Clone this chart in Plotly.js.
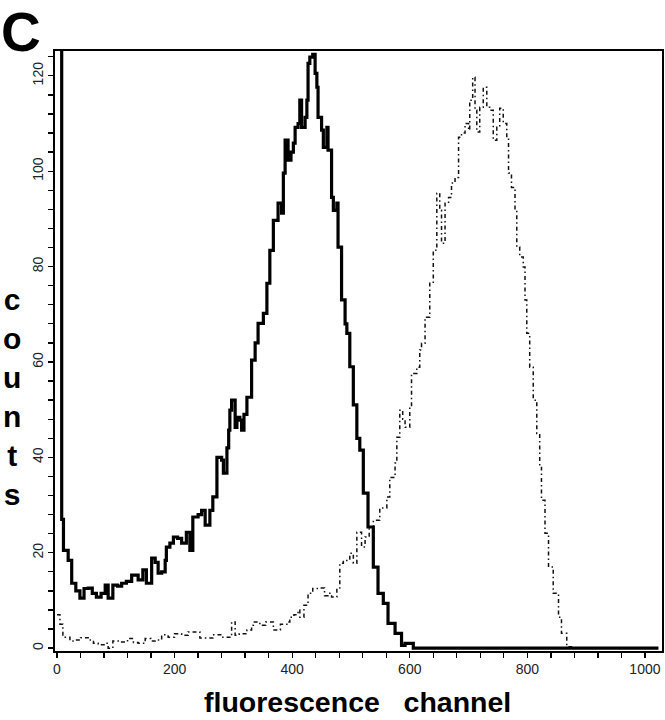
<!DOCTYPE html>
<html>
<head>
<meta charset="utf-8">
<script src="https://cdn.plot.ly/plotly-3.0.1.min.js"></script>
<style>html,body{margin:0;padding:0;background:#fff;}#chart{width:665px;height:720px;}</style>
</head>
<body>
<div id="chart"></div>
<script>
// Solid (thick) histogram: channel, counts
const solidChannel = [0,8,11,19,25,32,39,46,53,60,67,75,82,87,95,103,110,118,127,138,146,152,161,167,172,178,184,186,192,198,205,212,220,226,231,240,246,252,260,265,272,280,283,289,292,294,297,303,306,311,314,318,323,331,337,342,351,357,362,368,376,382,385,388,393,398,402,405,410,413,416,422,425,427,430,435,439,442,444,450,453,459,461,467,470,476,478,484,490,493,498,504,510,515,521,529,538,546,555,563,575,586,592,600,606,1023];
const solidCounts  = [200,27,20.5,18.4,13.6,12,10.5,12.5,12.6,11.5,10.7,11.5,13.2,10.5,13.2,13,13.6,14,15.3,14.3,16.4,13.6,18.9,18,15.7,16,18.4,21.2,22,23.3,23,22,24.3,20.5,27.5,28,28.9,25.8,28.9,31.7,40,39.4,36.7,42,45.7,49.9,52,46.3,48.4,47.8,45.7,49,52.6,60.4,64,68.1,70.2,76.5,83.4,89.7,93.3,91.2,99.6,106.5,102.3,104,105.9,109.2,110,114.9,109.2,111.3,114.9,122.6,123.9,124.5,120.5,117.6,111.3,108.6,105,109.2,104.4,94.5,91.8,93.3,84.1,73,68,66,59,51,44,41.5,32.5,25.4,17,11.5,9.4,5.2,3.1,0.6,1,1,0,0];

// Dotted (thin) histogram: channel, counts
const dashChannel = [0,5,10,14,22,31,40,53,62,70,80,87,95,110,120,130,138,150,160,167,178,189,200,212,223,232,243,252,265,280,289,297,303,310,323,331,334,345,355,368,380,391,396,403,410,413,420,427,435,447,455,461,467,476,481,487,498,504,510,518,524,531,538,549,561,566,575,578,583,588,592,600,603,612,617,620,626,634,640,646,651,654,660,666,671,677,683,688,694,700,702,707,711,714,719,725,731,736,742,748,753,759,765,768,773,779,782,787,793,796,799,804,810,816,821,824,830,836,844,853,858,867,875,1023];
const dashCounts  = [7,5,2.5,2.3,1.5,1.7,2.2,1.7,1,0.7,1,0,1.5,1.3,2,1.2,1,2,1.5,1.7,2.8,2.3,3,2.7,3.4,3.4,2.1,2.1,2.8,2.3,2.3,5.5,2.7,3,3.8,4.8,5.5,4.8,5.5,3.8,5,5.5,6.5,7,8,6.5,9,11.5,12.5,12.6,11,11.5,10.7,12.6,17.8,18.4,19.9,17.8,24.3,21.2,23.3,25,26.8,29.4,31.7,35.8,38.8,44.2,49.9,48,46.3,50.5,57.6,58.9,62.5,63.9,69.4,76.5,83.4,95.4,91.8,84.9,93.3,94.5,97.5,98.7,107.1,108,110,108.6,114.9,119.7,112.8,108.2,113.4,117.6,113.4,112.8,106.5,109.2,113.2,110,106.9,99.6,96.6,91.8,84.1,82,79.9,73,66,58.9,52,45,37.9,31,24.1,17,11.5,6.5,3.1,0.3,0,0];

// Tick positions (every minor step) and labels (only on major steps)
const xTickVals = [0,40,80,120,160,200,240,280,320,360,400,440,480,520,560,600,640,680,720,760,800,840,880,920,960,1000];
const xTickText = ['0','','','','','200','','','','','400','','','','','600','','','','','800','','','','','1000'];
const yTickVals = [0,4,8,12,16,20,24,28,32,36,40,44,48,52,56,60,64,68,72,76,80,84,88,92,96,100,104,108,112,116,120,124];
const yTickText = ['0','','','','','20','','','','','40','','','','','60','','','','','80','','','','','100','','','','','120',''];

const traces = [
  {x: dashChannel, y: dashCounts, type: 'scatter', mode: 'lines',
   line: {shape: 'hv', color: '#111', width: 1.5, dash: '4px,3px,1.5px,3px'}, hoverinfo: 'skip'},
  {x: solidChannel, y: solidCounts, type: 'scatter', mode: 'lines',
   line: {shape: 'hv', color: '#000', width: 3.2}, hoverinfo: 'skip'}
];

const tickFont = {family: '"Liberation Sans", Arial, Helvetica, sans-serif', size: 14, color: '#222'};
const boldFont = (s) => ({family: '"Liberation Sans", Arial, Helvetica, sans-serif', size: s, color: '#000', weight: 'bold'});

const layout = {
  width: 665, height: 720,
  margin: {l: 55, r: 3, t: 51, b: 69, pad: 0},
  paper_bgcolor: '#fff', plot_bgcolor: '#fff',
  showlegend: false,
  xaxis: {
    range: [-3.4, 1029], showgrid: false, zeroline: false,
    showline: true, mirror: true, linecolor: '#000', linewidth: 1.6,
    tickmode: 'array', tickvals: xTickVals, ticktext: xTickText,
    ticks: 'outside', ticklen: 5, tickwidth: 1.3, tickcolor: '#000', tickfont: tickFont
  },
  yaxis: {
    range: [-0.6, 125.2], showgrid: false, zeroline: false,
    showline: true, mirror: true, linecolor: '#000', linewidth: 1.8,
    tickmode: 'array', tickvals: yTickVals, ticktext: yTickText,
    ticks: 'outside', ticklen: 5, tickwidth: 1.3, tickcolor: '#000', tickfont: tickFont, tickangle: -90
  },
  annotations: [
    {text: 'C', xref: 'paper', yref: 'paper', x: -55/607, y: 1 + 51/600, xanchor: 'left', yanchor: 'top',
     showarrow: false, font: boldFont(55), borderpad: 0},
    {text: 'c<br>o<br>u<br>n<br>t<br>s', xref: 'paper', yref: 'paper', x: (12-55)/607, y: (651-397)/600,
     xanchor: 'center', yanchor: 'middle', showarrow: false, font: boldFont(30), borderpad: 0},
    {text: 'fluorescence\u00a0\u00a0\u00a0channel', xref: 'paper', yref: 'paper', x: (357-55)/607, y: (651-702)/600,
     xanchor: 'center', yanchor: 'middle', showarrow: false, font: boldFont(28.5), borderpad: 0}
  ]
};

Plotly.newPlot('chart', traces, layout, {staticPlot: true, displayModeBar: false});
</script>
</body>
</html>
